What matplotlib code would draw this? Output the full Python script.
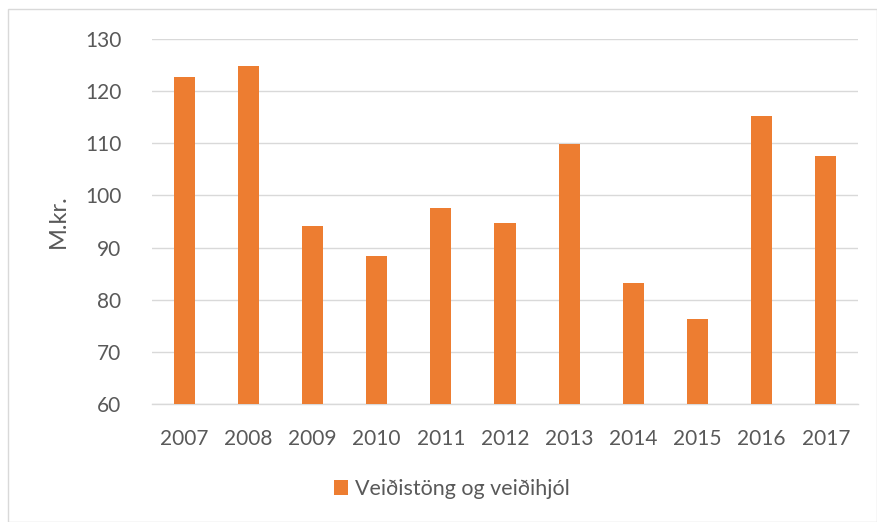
import matplotlib
matplotlib.use("Agg")
import matplotlib.pyplot as plt
from matplotlib.patches import Rectangle

years = ["2007", "2008", "2009", "2010", "2011", "2012", "2013", "2014", "2015", "2016", "2017"]
values = [122.7, 124.9, 94.2, 88.4, 97.6, 94.7, 109.8, 83.3, 76.3, 115.3, 107.6]
series_name = "Veiðistöng og veiðihjól"
yticks = [60, 70, 80, 90, 100, 110, 120, 130]

plt.rcParams['font.family'] = ['Lato', 'DejaVu Sans']
txt = "#595959"
orange = "#ED7D31"

fig = plt.figure(figsize=(8.77, 5.22), dpi=100)
fig.patches.append(Rectangle((8/877, 0), 1 - 8/877, 1 - 9/522, transform=fig.transFigure,
                             fill=False, edgecolor="#D9D9D9", linewidth=1.0))
ax = fig.add_axes([152/877, 1 - 404/522, (858 - 152)/877, (404 - 39)/522])

x = range(len(years))
bars = ax.bar(x, values, width=0.33, color=orange, label=series_name, zorder=3)
ax.set_ylim(60, 130)
ax.set_xlim(-0.5, len(years) - 0.5)
ax.set_yticks(yticks)
ax.set_xticks(list(x))
ax.set_xticklabels(years)
ax.yaxis.grid(True, color="#D9D9D9", linewidth=1.0, zorder=0)
ax.set_axisbelow(True)
for s in ["top", "right", "left"]:
    ax.spines[s].set_visible(False)
ax.spines["bottom"].set_color("#D9D9D9")
ax.spines["bottom"].set_linewidth(1.0)
ax.tick_params(axis="both", length=0, labelsize=15, labelcolor=txt)
ax.tick_params(axis="y", pad=22)
ax.tick_params(axis="x", pad=18)
ax.set_ylabel("M.kr.", fontsize=17, color=txt, labelpad=12)

fig.legend(handles=[bars], labels=[series_name], loc="center", bbox_to_anchor=(452/877, 1 - 489/522),
           frameon=False, fontsize=15.5, labelcolor=txt, handlelength=0.65, handleheight=0.7,
           handletextpad=0.35)

fig.savefig("out.png", dpi=100)
